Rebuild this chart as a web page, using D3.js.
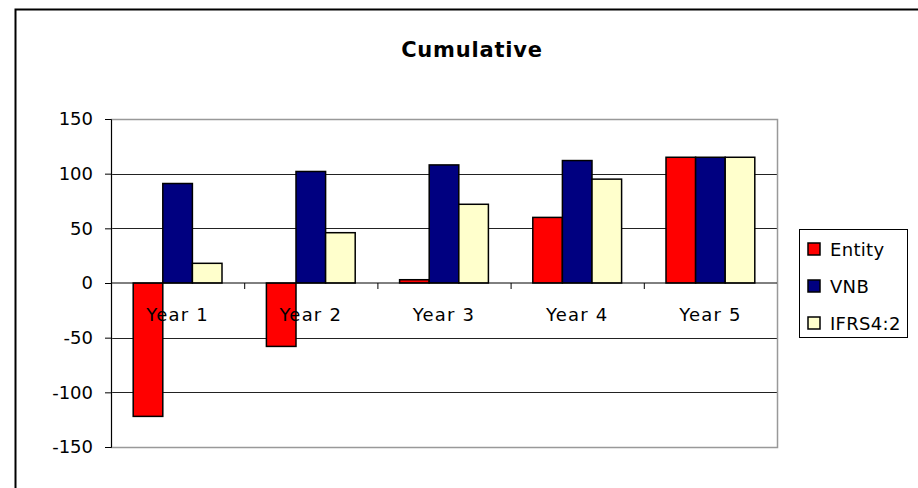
<!DOCTYPE html>
<html>
<head>
<meta charset="utf-8">
<script src="https://cdn.jsdelivr.net/npm/d3@7"></script>
<style>
  body { margin: 0; background: #fff; }
  text { font-family: "DejaVu Sans", Arial, sans-serif; fill: #000; }
</style>
</head>
<body>
<div class="svg-container"></div>
<script>
var years = ['Year 1', 'Year 2', 'Year 3', 'Year 4', 'Year 5'];
var seriesNames = ['Entity', 'VNB', 'IFRS4:2'];
var entity = [-122, -58, 3, 60, 115];
var vnb = [91, 102, 108, 112, 115];
var ifrs = [18, 46, 72, 95, 115];
var yTicks = [150, 100, 50, 0, -50, -100, -150];
var colors = ['#ff0000', '#000080', '#ffffcc'];

var series = [entity, vnb, ifrs];

var svg = d3.select('.svg-container').append('svg')
  .attr('width', 918)
  .attr('height', 488);

// outer chart frame (bottom is cut off in the original)
svg.append('path')
  .attr('d', 'M15.5,488 V9.5 H918')
  .attr('fill', 'none')
  .attr('stroke', '#000')
  .attr('stroke-width', 2);

svg.append('text')
  .attr('x', 472)
  .attr('y', 57)
  .attr('text-anchor', 'middle')
  .style('font-size', '21px')
  .style('font-weight', 'bold')
  .style('letter-spacing', '0.8px')
  .text('Cumulative');

var plot = { left: 111, right: 777, top: 119, bottom: 447 };

var x = d3.scaleBand()
  .domain(years)
  .range([plot.left, plot.right]);

var y = d3.scaleLinear()
  .domain([-150, 150])
  .range([plot.bottom, plot.top]);

var barW = x.bandwidth() / 4.5;

// gridlines
svg.selectAll('.grid')
  .data(yTicks.filter(function(d) { return d !== 0 && Math.abs(d) !== 150; }))
  .enter()
  .append('line')
  .attr('class', 'grid')
  .attr('x1', plot.left)
  .attr('x2', plot.right)
  .attr('y1', function(d) { return Math.round(y(d)) + 0.5; })
  .attr('y2', function(d) { return Math.round(y(d)) + 0.5; })
  .attr('stroke', '#222')
  .attr('stroke-width', 1);

// plot area border
svg.append('rect')
  .attr('x', plot.left + 0.5)
  .attr('y', plot.top + 0.5)
  .attr('width', plot.right - plot.left)
  .attr('height', plot.bottom - plot.top)
  .attr('fill', 'none')
  .attr('stroke', '#999')
  .attr('stroke-width', 1.5);

// bars
series.forEach(function(vals, si) {
  svg.selectAll('.bar' + si)
    .data(vals)
    .enter()
    .append('rect')
    .attr('class', 'bar' + si)
    .attr('x', function(d, i) { return x(years[i]) + barW * 0.75 + si * barW; })
    .attr('width', barW)
    .attr('y', function(d) { return y(Math.max(0, d)); })
    .attr('height', function(d) { return Math.abs(y(d) - y(0)); })
    .attr('fill', colors[si])
    .attr('stroke', '#000')
    .attr('stroke-width', 1.5);
});

// y axis
var yAxis = d3.axisLeft(y)
  .tickValues(yTicks)
  .tickSize(6)
  .tickPadding(12)
  .tickFormat(function(d) { return String(d); });

var yg = svg.append('g')
  .attr('transform', 'translate(' + plot.left + ',0)')
  .call(yAxis);
yg.select('.domain').attr('stroke', '#000');
yg.selectAll('text')
  .style('font-family', '"DejaVu Sans", Arial, sans-serif')
  .style('font-size', '18px');

// zero line with category ticks
var xg = svg.append('g')
  .attr('transform', 'translate(0,' + y(0) + ')');
xg.append('line')
  .attr('x1', plot.left)
  .attr('x2', plot.right)
  .attr('stroke', '#000');
xg.selectAll('.xtick')
  .data(years.slice(1))
  .enter()
  .append('line')
  .attr('x1', function(d) { return x(d) + 0.5; })
  .attr('x2', function(d) { return x(d) + 0.5; })
  .attr('y1', 0)
  .attr('y2', 6)
  .attr('stroke', '#000');
xg.selectAll('.xlabel')
  .data(years)
  .enter()
  .append('text')
  .attr('x', function(d) { return x(d) + x.bandwidth() / 2; })
  .attr('y', 38)
  .attr('text-anchor', 'middle')
  .style('font-size', '18px')
  .style('letter-spacing', '1.2px')
  .text(function(d) { return d; });

// legend
var legend = svg.append('g').attr('transform', 'translate(799,229)');
legend.append('rect')
  .attr('x', 0.5)
  .attr('y', 0.5)
  .attr('width', 108)
  .attr('height', 108)
  .attr('fill', '#fff')
  .attr('stroke', '#000');

var item = legend.selectAll('.item')
  .data(seriesNames)
  .enter()
  .append('g')
  .attr('transform', function(d, i) { return 'translate(9,' + (20 + i * 37) + ')'; });
item.append('rect')
  .attr('x', 0)
  .attr('y', -6)
  .attr('width', 12)
  .attr('height', 12)
  .attr('fill', function(d, i) { return colors[i]; })
  .attr('stroke', '#000')
  .attr('stroke-width', 1.5);
item.append('text')
  .attr('x', 22)
  .attr('y', 6.5)
  .style('font-size', '18px')
  .style('letter-spacing', '0.3px')
  .text(function(d) { return d; });
</script>
</body>
</html>
